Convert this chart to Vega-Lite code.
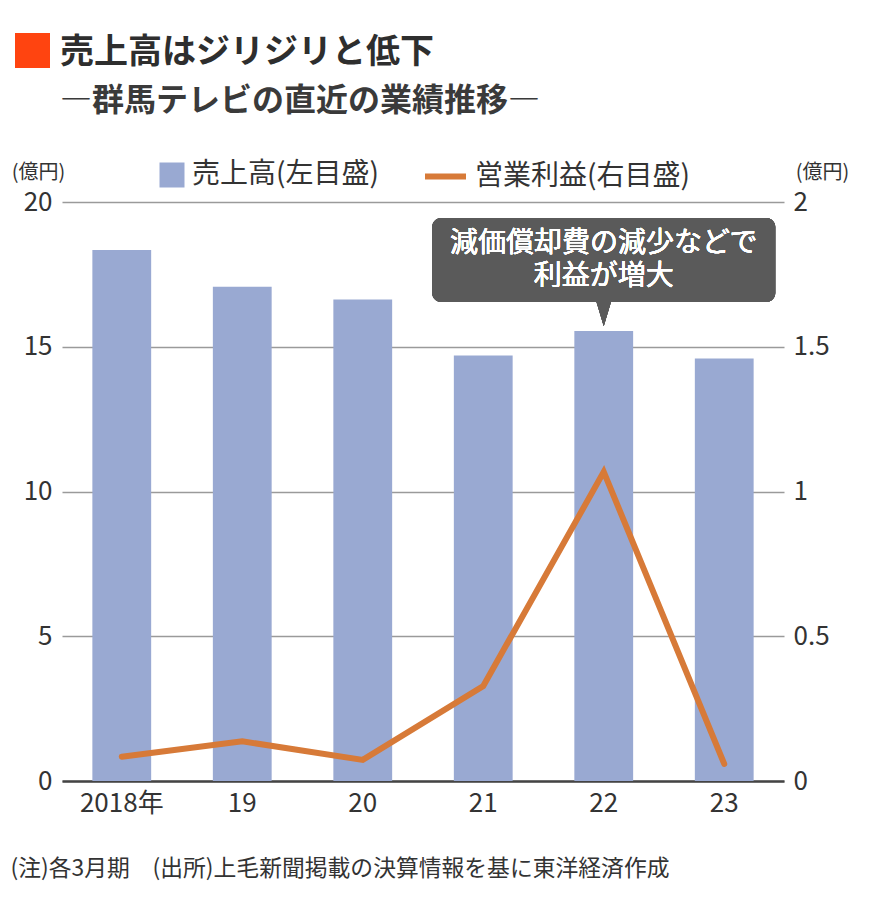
{
  "$schema": "https://vega.github.io/schema/vega-lite/v6.json",
  "width": 722,
  "height": 579,
  "autosize": {"type": "none"},
  "padding": {"left": 62, "top": 202, "right": 86, "bottom": 134},
  "background": "white",
  "config": {
    "view": {"stroke": null},
    "font": "Noto Sans CJK JP, sans-serif",
    "title": {"font": "Noto Sans CJK JP", "subtitleFont": "Noto Sans CJK JP"}
  },
  "title": {
    "text": "売上高はジリジリと低下",
    "subtitle": "―群馬テレビの直近の業績推移―",
    "anchor": "start",
    "frame": "group",
    "orient": "top",
    "fontSize": 34,
    "fontWeight": "bold",
    "color": "#2e2e2e",
    "subtitleFontSize": 32,
    "subtitleFontWeight": "bold",
    "subtitleColor": "#3a3a3a",
    "subtitlePadding": 16,
    "offset": 0,
    "dy": 84,
    "dx": -2
  },
  "data": {
    "values": [
      {"year": "2018年", "sales": 18.34, "profit": 0.084},
      {"year": "19", "sales": 17.07, "profit": 0.137},
      {"year": "20", "sales": 16.63, "profit": 0.073},
      {"year": "21", "sales": 14.7, "profit": 0.328},
      {"year": "22", "sales": 15.54, "profit": 1.068},
      {"year": "23", "sales": 14.59, "profit": 0.059}
    ]
  },
  "encoding": {
    "x": {
      "field": "year",
      "type": "ordinal",
      "sort": null,
      "scale": {"paddingInner": 0.512, "paddingOuter": 0.252},
      "axis": {
        "title": "(注)各3月期　(出所)上毛新聞掲載の決算情報を基に東洋経済作成",
        "titleX": -52,
        "titleY": 87,
        "titleAlign": "left",
        "titleBaseline": "middle",
        "titleFontSize": 22.8,
        "titleFontWeight": "normal",
        "titleColor": "#333333",
        "titleLimit": 800,
        "labelAngle": 0,
        "labelFontSize": 26,
        "labelColor": "#333333",
        "labelPadding": 9,
        "ticks": false,
        "domainColor": "#444444",
        "domainWidth": 2.5,
        "grid": false
      }
    }
  },
  "layer": [
    {
      "layer": [
        {
          "mark": {"type": "bar"},
          "encoding": {
            "y": {
              "field": "sales",
              "type": "quantitative",
              "scale": {"domain": [0, 20], "nice": false},
              "axis": {
                "title": "(億円)",
                "titleAngle": 0,
                "titleX": -24,
                "titleY": -30,
                "titleAlign": "center",
                "titleBaseline": "middle",
                "titleFontSize": 20,
                "titleFontWeight": "normal",
                "titleColor": "#333333",
                "values": [0, 5, 10, 15, 20],
                "labelFontSize": 26,
                "labelColor": "#333333",
                "labelPadding": 10,
                "ticks": false,
                "domain": false,
                "grid": true,
                "gridColor": "#9a9a9a",
                "gridWidth": 1.5
              }
            },
            "color": {
              "datum": "売上高(左目盛)",
              "type": "nominal",
              "scale": {"range": ["#99a9d2"]},
              "legend": {
                "orient": "none",
                "legendX": 96,
                "legendY": -41,
                "title": null,
                "symbolType": "square",
                "symbolSize": 625,
                "symbolStrokeWidth": 0,
                "labelFontSize": 28,
                "labelColor": "#333333",
                "labelOffset": 6,
                "labelLimit": 400,
                "padding": 0
              }
            }
          }
        },
        {
          "mark": {"type": "bar", "width": 343, "cornerRadius": 9, "color": "#5a5a5a"},
          "encoding": {
            "x": {"datum": "22"},
            "y": {"datum": 19.45},
            "y2": {"datum": 16.55}
          }
        },
        {
          "mark": {"type": "point", "shape": "M-0.6,-1L0.6,-1L0,1Z", "filled": true, "color": "#5a5a5a", "size": 576, "opacity": 1},
          "encoding": {
            "x": {"datum": "22"},
            "y": {"datum": 16.13}
          }
        },
        {
          "mark": {
            "type": "text",
            "text": "減価償却費の減少などで",
            "color": "white",
            "fontSize": 28,
            "fontWeight": "normal",
            "align": "center",
            "baseline": "middle"
          },
          "encoding": {
            "x": {"datum": "22"},
            "y": {"datum": 18.55}
          }
        },
        {
          "mark": {
            "type": "text",
            "text": "利益が増大",
            "color": "white",
            "fontSize": 28,
            "fontWeight": "normal",
            "align": "center",
            "baseline": "middle"
          },
          "encoding": {
            "x": {"datum": "22"},
            "y": {"datum": 17.41}
          }
        }
      ]
    },
    {
      "mark": {"type": "line", "strokeWidth": 6, "strokeCap": "round", "strokeJoin": "miter"},
      "encoding": {
        "y": {
          "field": "profit",
          "type": "quantitative",
          "scale": {"domain": [0, 2], "nice": false},
          "axis": {
            "orient": "right",
            "title": "(億円)",
            "titleAngle": 0,
            "titleX": 38,
            "titleY": -30,
            "titleAlign": "center",
            "titleBaseline": "middle",
            "titleFontSize": 20,
            "titleFontWeight": "normal",
            "titleColor": "#333333",
            "values": [0, 0.5, 1, 1.5, 2],
            "format": "~g",
            "labelFontSize": 26,
            "labelColor": "#333333",
            "labelPadding": 9,
            "ticks": false,
            "domain": false,
            "grid": false
          }
        },
        "stroke": {
          "datum": "営業利益(右目盛)",
          "type": "nominal",
          "scale": {"range": ["#d77a38"]},
          "legend": {
            "orient": "none",
            "legendX": 360,
            "legendY": -49,
            "title": null,
            "symbolType": "stroke",
            "symbolSize": 1681,
            "symbolStrokeWidth": 6,
            "labelFontSize": 28,
            "labelColor": "#333333",
            "labelOffset": 6,
            "labelLimit": 400,
            "padding": 0
          }
        },
        "opacity": {
          "datum": "mark",
          "type": "nominal",
          "scale": {"range": [1]},
          "legend": {
            "orient": "none",
            "legendX": -47,
            "legendY": -169,
            "title": null,
            "symbolType": "square",
            "symbolSize": 306,
            "symbolStrokeWidth": 17.5,
            "symbolStrokeColor": "#ff4410",
            "symbolFillColor": "#ff4410",
            "labelExpr": "''",
            "padding": 0,
            "encode": {"symbols": {"update": {"fill": {"value": "#ff4410"}, "stroke": {"value": "#ff4410"}, "opacity": {"value": 1}}}}
          }
        }
      }
    }
  ],
  "resolve": {"scale": {"y": "independent"}}
}
